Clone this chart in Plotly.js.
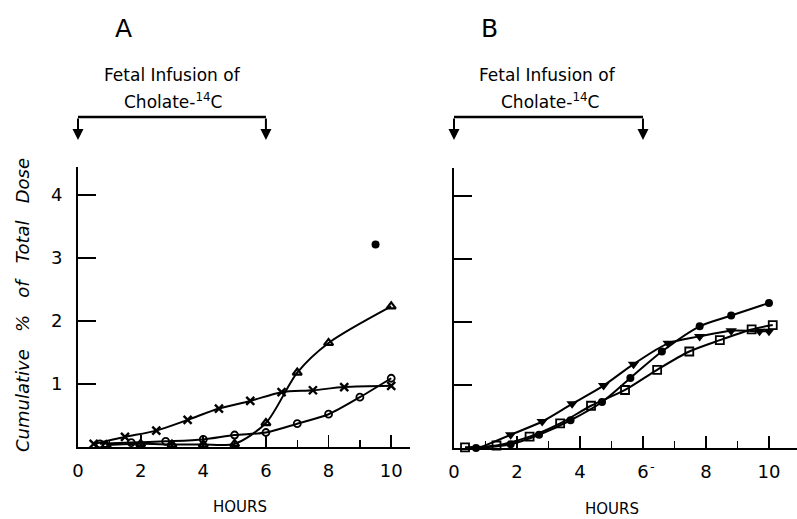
<!DOCTYPE html>
<html>
<head>
<meta charset="utf-8">
<script src="https://cdn.plot.ly/plotly-3.0.1.min.js"></script>
<style>html,body{margin:0;padding:0;background:#fff;}#chart{width:797px;height:519px;}</style>
</head>
<body>
<div id="chart"></div>
<script>
// ---- Panel A data ----
var aCrossX  = [0.5, 1.5, 2.5, 3.5, 4.5, 5.5, 6.5, 7.5, 8.5, 10.0];
var aCrossY  = [0.05, 0.16, 0.26, 0.43, 0.61, 0.73, 0.87, 0.90, 0.95, 0.97];
var aCircX   = [0.7, 1.7, 2.8, 4.0, 5.0, 6.0, 7.0, 8.0, 9.0, 10.0];
var aCircY   = [0.05, 0.07, 0.09, 0.12, 0.19, 0.23, 0.37, 0.52, 0.79, 1.09];
var aTriX    = [0.9, 2.0, 3.0, 4.0, 5.0, 6.0, 7.0, 8.0, 10.0];
var aTriY    = [0.03, 0.05, 0.04, 0.04, 0.05, 0.38, 1.18, 1.65, 2.23];
var aDotX    = [9.5];
var aDotY    = [3.21];
// ---- Panel B data ----
var bDotX    = [0.7, 1.8, 2.7, 3.7, 4.7, 5.6, 6.6, 7.8, 8.8, 10.0];
var bDotY    = [0.0, 0.06, 0.21, 0.44, 0.73, 1.11, 1.53, 1.93, 2.10, 2.30];
var bTriX    = [0.7, 1.8, 2.8, 3.75, 4.75, 5.7, 6.8, 7.8, 8.8, 9.7, 10.0];
var bTriY    = [-0.02, 0.21, 0.42, 0.70, 0.99, 1.33, 1.66, 1.77, 1.86, 1.85, 1.85];
var bSqX     = [0.35, 1.35, 2.4, 3.37, 4.35, 5.43, 6.45, 7.47, 8.44, 9.45, 10.12];
var bSqY     = [0.01, 0.04, 0.18, 0.39, 0.67, 0.92, 1.24, 1.53, 1.71, 1.88, 1.95];
// ---- axes / labels ----
var xTickVals = [0, 2, 4, 6, 8, 10];
var xTickText = ['0', '2', '4', '6', '8', '10'];
var yTickVals = [1, 2, 3, 4];
var yTickText = ['1', '2', '3', '4'];
var infusion  = [0, 6];

var F = 'DejaVu Sans, sans-serif';
function tr(x, y, xa, ya, sym, size, lw, shape) {
  return {x: x, y: y, xaxis: xa, yaxis: ya, type: 'scatter',
    mode: shape ? 'lines+markers' : 'markers', cliponaxis: false,
    line: {color: '#000', width: 2, shape: shape || 'linear', smoothing: 0.8},
    marker: {symbol: sym, size: size, color: '#000', line: {color: '#000', width: lw}},
    showlegend: false, hoverinfo: 'skip'};
}
var data = [
  tr(aCrossX, aCrossY, 'x', 'y', 'x-thin-open', 8, 2.4, 'spline'),
  tr(aCircX, aCircY, 'x', 'y', 'circle-open', 7, 1.8, 'spline'),
  tr(aTriX, aTriY, 'x', 'y', 'triangle-up-open', 8, 2.2, 'spline'),
  tr(aDotX, aDotY, 'x', 'y', 'circle', 8, 0, null),
  tr(bSqX, bSqY, 'x2', 'y2', 'square-open', 8, 1.8, 'spline'),
  tr(bDotX, bDotY, 'x2', 'y2', 'circle', 8, 0, 'spline'),
  tr(bTriX, bTriY, 'x2', 'y2', 'triangle-down', 10, 0, 'spline')
];

function xa(domain, range) {
  return {domain: domain, range: range, showgrid: false, zeroline: false,
    showline: true, linecolor: '#000', linewidth: 2,
    ticks: 'inside', ticklen: 12, tickwidth: 1.8, tickcolor: '#000',
    tickvals: xTickVals, ticktext: xTickText, ticklabelstandoff: 6,
    minor: {dtick: 1, ticks: 'inside', ticklen: 7, tickwidth: 1.5, tickcolor: '#000', showgrid: false},
    tickfont: {family: F, size: 18, color: '#000'}, fixedrange: true};
}
function ya(domain, labels, anchor) {
  return {domain: domain, range: [0, 4.44], anchor: anchor, showgrid: false, zeroline: false,
    showline: true, linecolor: '#000', linewidth: 2,
    ticks: 'inside', ticklen: 18, tickwidth: 1.8, tickcolor: '#000',
    tickvals: yTickVals, ticktext: labels ? yTickText : ['', '', '', ''], ticklabelstandoff: 10,
    tickfont: {family: F, size: 18, color: '#000'}, fixedrange: true};
}

var yTop = 1 - 117 / 519, yHead = 1 - 140 / 519;
var shapes = [], annotations = [];
['x', 'x2'].forEach(function (ax) {
  shapes.push({type: 'line', xref: ax, yref: 'paper', x0: infusion[0], x1: infusion[1],
    y0: yTop, y1: yTop, line: {color: '#000', width: 2.5}});
  infusion.forEach(function (t) {
    annotations.push({xref: ax, yref: 'paper', x: t, y: yHead, text: '', showarrow: true,
      ax: 0, ay: -23, arrowhead: 2, arrowsize: 1.1, arrowwidth: 2, arrowcolor: '#000'});
  });
});
function txt(x, y, t, size, extra) {
  var o = {xref: 'paper', yref: 'paper', x: x / 797, y: 1 - y / 519, text: t, showarrow: false,
    xanchor: 'center', yanchor: 'middle', font: {family: F, size: size, color: '#000'}};
  for (var k in extra) o[k] = extra[k];
  return o;
}
annotations.push(txt(123, 28, 'A', 25));
annotations.push(txt(490, 28, 'B', 25));
annotations.push(txt(172, 75, 'Fetal Infusion of', 17));
annotations.push(txt(173, 101, 'Cholate-<sup>14</sup>C', 17));
annotations.push(txt(547, 75, 'Fetal Infusion of', 17));
annotations.push(txt(550, 101, 'Cholate-<sup>14</sup>C', 17));
annotations.push(txt(240, 507, 'HOURS', 15));
annotations.push(txt(612, 509, 'HOURS', 15));
annotations.push(txt(652, 466, '-', 13));
annotations.push(txt(22, 305, 'Cumulative\u00a0\u00a0\u00a0%\u00a0\u00a0\u00a0of\u00a0\u00a0\u00a0Total\u00a0\u00a0\u00a0Dose', 18,
  {textangle: -90, font: {family: F, size: 18, color: '#000', style: 'italic'}}));

var layout = {
  width: 797, height: 519, margin: {l: 0, r: 0, t: 0, b: 0},
  paper_bgcolor: '#fff', plot_bgcolor: 'rgba(0,0,0,0)', showlegend: false,
  xaxis: xa([78 / 797, 410 / 797], [0, 10.6]),
  yaxis: ya([1 - 447 / 519, 1 - 167 / 519], true, 'x'),
  xaxis2: xa([454 / 797, 1], [0, 10.89]),
  yaxis2: ya([1 - 448 / 519, 1 - 168 / 519], false, 'x2'),
  shapes: shapes, annotations: annotations
};
layout.xaxis.anchor = 'y';
layout.xaxis2.anchor = 'y2';
Plotly.newPlot('chart', data, layout, {staticPlot: true, displayModeBar: false});
</script>
</body>
</html>
